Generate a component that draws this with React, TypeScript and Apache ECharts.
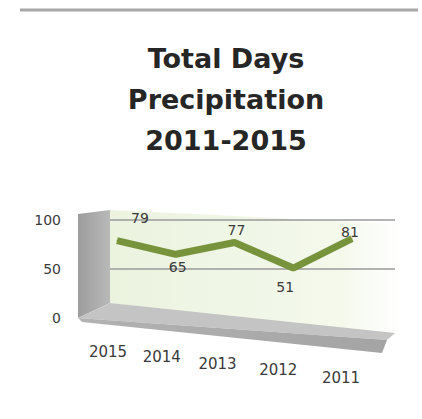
import { useEffect, useRef } from "react";
import * as echarts from "echarts";

const years = ["2015", "2014", "2013", "2012", "2011"];
const days = [79, 65, 77, 51, 81];
const titleLines = ["Total Days", "Precipitation", "2011-2015"];
const gridValues = [50, 100];

export default function App() {
  const ref = useRef<HTMLDivElement>(null);
  useEffect(() => {
    const chart = echarts.init(ref.current!, null, { renderer: "svg" });
    const shifts = [
      [0, 18],
      [5, 28],
      [12, 34],
      [18, 30],
      [26, 22],
    ];
    const rich: any = {};
    shifts.forEach(([t, r], i) => {
      rich["y" + i] = {
        padding: [t, r, 0, 0],
        fontSize: 15,
        color: "#3a3a3a",
        fontFamily: "DejaVu Sans",
      };
    });
    const labelCfg: any[] = [
      { position: "top", offset: [23, -10] },
      { position: "bottom", offset: [2, 0] },
      { position: "top", offset: [2, 0] },
      { position: "bottom", offset: [-8, 6] },
      { position: "top", offset: [-2, 6] },
    ];
    chart.setOption({
      animation: false,
      backgroundColor: "#ffffff",
      title: {
        text: titleLines.join("\n"),
        left: 226,
        top: 38,
        padding: 0,
        textAlign: "center",
        textStyle: {
          fontFamily: "DejaVu Sans",
          fontWeight: "bold",
          fontSize: 27,
          lineHeight: 41,
          color: "#262626",
        },
      },
      graphic: [
        {
          type: "line",
          shape: { x1: 20, y1: 10, x2: 418, y2: 10 },
          style: { stroke: "#a8a8a8", lineWidth: 3 },
        },
        {
          type: "polygon",
          shape: { points: [[110, 210], [400, 224], [400, 336], [110, 303]] },
          style: {
            fill: new echarts.graphic.LinearGradient(0, 0, 1, 0, [
              { offset: 0, color: "#ebf3df" },
              { offset: 0.8, color: "#f4f9ec" },
              { offset: 1, color: "#ffffff" },
            ]),
          },
        },
        {
          type: "polygon",
          shape: { points: [[78, 214], [110, 210], [110, 303], [78, 318]] },
          style: {
            fill: new echarts.graphic.LinearGradient(0, 0, 1, 0, [
              { offset: 0, color: "#9d9d9d" },
              { offset: 1, color: "#b9b9b9" },
            ]),
          },
        },
        {
          type: "polygon",
          shape: { points: [[78, 318], [110, 303], [395, 333], [387, 340]] },
          style: { fill: "#c4c4c4" },
        },
        {
          type: "polygon",
          shape: { points: [[78, 318], [387, 340], [382, 353], [82, 322]] },
          style: {
            fill: new echarts.graphic.LinearGradient(0, 0, 1, 0, [
              { offset: 0, color: "#b2b2b2" },
              { offset: 1, color: "#a4a4a4" },
            ]),
          },
        },
      ],
      grid: { left: 117, right: 70, top: 220, height: 98 },
      xAxis: {
        type: "category",
        data: years,
        boundaryGap: false,
        axisLine: { show: false },
        axisTick: { show: false },
        splitLine: { show: false },
        axisLabel: {
          interval: 0,
          margin: 26,
          formatter: (v: string, i: number) => `{y${i}|${v}}`,
          rich,
        },
      },
      yAxis: {
        type: "value",
        min: 0,
        max: 100,
        interval: 50,
        axisLine: { show: false },
        axisTick: { show: false },
        splitLine: { show: false },
        axisLabel: {
          margin: 56,
          fontSize: 14,
          color: "#3a3a3a",
          fontFamily: "DejaVu Sans",
        },
      },
      series: [
        {
          type: "line",
          data: days.map((v, i) => ({
            value: v,
            label: labelCfg[i],
          })),
          showSymbol: true,
          symbol: "circle",
          symbolSize: 1,
          itemStyle: { color: "#77933c" },
          lineStyle: { color: "#77933c", width: 7 },
          label: {
            show: true,
            fontSize: 14,
            color: "#3a3a3a",
            fontFamily: "DejaVu Sans",
          },
          markLine: {
            z: 1,
            silent: true,
            symbol: "none",
            label: { show: false },
            lineStyle: { color: "#9a9a9a", width: 1.5, type: "solid" },
            data: gridValues.map((g) => [
              { x: 110, yAxis: g },
              { x: 395, yAxis: g },
            ]),
          },
        },
      ],
    });
    return () => chart.dispose();
  }, []);
  return (
    <div
      ref={ref}
      style={{ width: 422, height: 419, position: "absolute", left: 0, top: 0 }}
    />
  );
}
